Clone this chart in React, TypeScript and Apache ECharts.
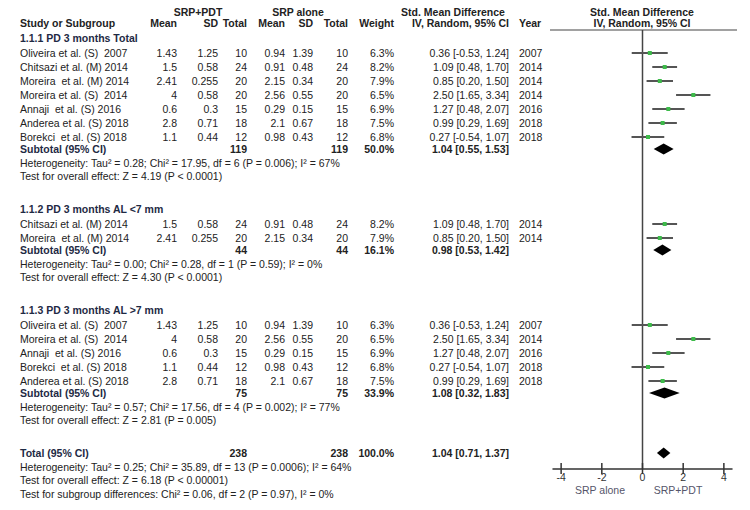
import React, { useEffect, useRef } from "react";
import * as echarts from "echarts";

// ---------- data ----------
const studyNames = [
  "Oliveira et al. (S)  2007",
  "Chitsazi et al. (M) 2014",
  "Moreira  et al. (M) 2014",
  "Moreira et al. (S)  2014",
  "Annaji  et al. (S) 2016",
  "Anderea et al. (S) 2018",
  "Borekci  et al. (S) 2018",
];
const meanPDT = [1.43, 1.5, 2.41, 4, 0.6, 2.8, 1.1];
const sdPDT = [1.25, 0.58, 0.255, 0.58, 0.3, 0.71, 0.44];
const nPDT = [10, 24, 20, 20, 15, 18, 12];
const meanSRP = [0.94, 0.91, 2.15, 2.56, 0.29, 2.1, 0.98];
const sdSRP = [1.39, 0.48, 0.34, 0.55, 0.15, 0.67, 0.43];
const nSRP = [10, 24, 20, 20, 15, 18, 12];
const weights = [6.3, 8.2, 7.9, 6.5, 6.9, 7.5, 6.8];
const smd = [0.36, 1.09, 0.85, 2.5, 1.27, 0.99, 0.27];
const ciLow = [-0.53, 0.48, 0.2, 1.65, 0.48, 0.29, -0.54];
const ciHigh = [1.24, 1.7, 1.5, 3.34, 2.07, 1.69, 1.07];
const years = [2007, 2014, 2014, 2014, 2016, 2018, 2018];

const groupTitles = [
  "1.1.1 PD 3 months Total",
  "1.1.2 PD 3 months AL <7 mm",
  "1.1.3 PD 3 months AL >7 mm",
];
const groupMembers = [
  [0, 1, 2, 3, 4, 5, 6],
  [1, 2],
  [0, 3, 4, 6, 5],
];
const subN = [119, 44, 75];
const subWeight = [50.0, 16.1, 33.9];
const subSmd = [1.04, 0.98, 1.08];
const subLow = [0.55, 0.53, 0.32];
const subHigh = [1.53, 1.42, 1.83];
const subHet = [
  "Heterogeneity: Tau² = 0.28; Chi² = 17.95, df = 6 (P = 0.006); I² = 67%",
  "Heterogeneity: Tau² = 0.00; Chi² = 0.28, df = 1 (P = 0.59); I² = 0%",
  "Heterogeneity: Tau² = 0.57; Chi² = 17.56, df = 4 (P = 0.002); I² = 77%",
];
const subTest = [
  "Test for overall effect: Z = 4.19 (P < 0.0001)",
  "Test for overall effect: Z = 4.30 (P < 0.0001)",
  "Test for overall effect: Z = 2.81 (P = 0.005)",
];
const totalN = 238;
const totalWeight = 100.0;
const totalSmd = 1.04;
const totalLow = 0.71;
const totalHigh = 1.37;
const totalNotes = [
  "Heterogeneity: Tau² = 0.25; Chi² = 35.89, df = 13 (P = 0.0006); I² = 64%",
  "Test for overall effect: Z = 6.18 (P < 0.00001)",
  "Test for subgroup differences: Chi² = 0.06, df = 2 (P = 0.97), I² = 0%",
];
const tickValues = [-4, -2, 0, 2, 4];
const axisSides = ["SRP alone", "SRP+PDT"];

// ---------- layout ----------
const FONT = "'Liberation Sans', Arial, sans-serif";
const FS = 10.5;
const COL = {
  name: 20,
  mean1: 177,
  sd1: 218,
  n1: 247,
  mean2: 285,
  sd2: 313,
  n2: 348,
  weight: 394,
  ci: 509,
  year: 519,
};
const AXIS_Y = 469;
const TOP_LINE_Y = 30;
const HEAD1_Y = 11.5;
const HEAD2_Y = 22.5;

function txt(text: string, x: number, y: number, align = "left", bold = false, color = "#222") {
  return {
    type: "text",
    silent: true,
    style: {
      text,
      x,
      y,
      font: `${bold ? "bold " : ""}${FS}px ${FONT}`,
      fill: color,
      align,
      verticalAlign: "middle",
      textAlign: align,
      textVerticalAlign: "middle",
    },
  };
}

const fmtCI = (e: number, l: number, h: number) =>
  `${e.toFixed(2)} [${l.toFixed(2)}, ${h.toFixed(2)}]`;

export default function App() {
  const ref = useRef<HTMLDivElement>(null);
  useEffect(() => {
    if (!ref.current) return;
    const chart = echarts.init(ref.current, null, { renderer: "svg" });

    const texts: any[] = [];
    const marks: any[] = [];
    const BOLD_DARK = "#1e2a44";

    // headers
    texts.push(txt("SRP+PDT", 198, HEAD1_Y, "center", true));
    texts.push(txt("SRP alone", 298, HEAD1_Y, "center", true));
    texts.push(txt("Std. Mean Difference", 453, HEAD1_Y, "center", true));
    texts.push(txt("Std. Mean Difference", 642, HEAD1_Y, "center", true));
    texts.push(txt("Study or Subgroup", COL.name, HEAD2_Y, "left", true));
    texts.push(txt("Mean", COL.mean1, HEAD2_Y, "right", true));
    texts.push(txt("SD", COL.sd1, HEAD2_Y, "right", true));
    texts.push(txt("Total", COL.n1, HEAD2_Y, "right", true));
    texts.push(txt("Mean", COL.mean2, HEAD2_Y, "right", true));
    texts.push(txt("SD", COL.sd2, HEAD2_Y, "right", true));
    texts.push(txt("Total", COL.n2, HEAD2_Y, "right", true));
    texts.push(txt("Weight", COL.weight, HEAD2_Y, "right", true));
    texts.push(txt("IV, Random, 95% CI", COL.ci, HEAD2_Y, "right", true));
    texts.push(txt("Year", COL.year, HEAD2_Y, "left", true));
    texts.push(txt("IV, Random, 95% CI", 642, HEAD2_Y, "center", true));

    let y = 38;
    groupMembers.forEach((members, gi) => {
      texts.push(txt(groupTitles[gi], COL.name, y, "left", true, BOLD_DARK));
      y += 15;
      members.forEach((si) => {
        texts.push(txt(studyNames[si], COL.name, y));
        texts.push(txt(String(meanPDT[si]), COL.mean1, y, "right"));
        texts.push(txt(String(sdPDT[si]), COL.sd1, y, "right"));
        texts.push(txt(String(nPDT[si]), COL.n1, y, "right"));
        texts.push(txt(String(meanSRP[si]), COL.mean2, y, "right"));
        texts.push(txt(String(sdSRP[si]), COL.sd2, y, "right"));
        texts.push(txt(String(nSRP[si]), COL.n2, y, "right"));
        texts.push(txt(weights[si].toFixed(1) + "%", COL.weight, y, "right"));
        texts.push(txt(fmtCI(smd[si], ciLow[si], ciHigh[si]), COL.ci, y, "right"));
        texts.push(txt(String(years[si]), COL.year, y));
        marks.push([smd[si], ciLow[si], ciHigh[si], y, 0]);
        y += 14;
      });
      y -= 2;
      texts.push(txt("Subtotal (95% CI)", COL.name, y, "left", true, BOLD_DARK));
      texts.push(txt(String(subN[gi]), COL.n1, y, "right", true));
      texts.push(txt(String(subN[gi]), COL.n2, y, "right", true));
      texts.push(txt(subWeight[gi].toFixed(1) + "%", COL.weight, y, "right", true));
      texts.push(txt(fmtCI(subSmd[gi], subLow[gi], subHigh[gi]), COL.ci, y, "right", true));
      marks.push([subSmd[gi], subLow[gi], subHigh[gi], y, 1]);
      y += 13.5;
      texts.push(txt(subHet[gi], COL.name, y));
      y += 13.5;
      texts.push(txt(subTest[gi], COL.name, y));
      y += 33;
    });
    texts.push(txt("Total (95% CI)", COL.name, y, "left", true, BOLD_DARK));
    texts.push(txt(String(totalN), COL.n1, y, "right", true));
    texts.push(txt(String(totalN), COL.n2, y, "right", true));
    texts.push(txt(totalWeight.toFixed(1) + "%", COL.weight, y, "right", true));
    texts.push(txt(fmtCI(totalSmd, totalLow, totalHigh), COL.ci, y, "right", true));
    marks.push([totalSmd, totalLow, totalHigh, y, 1]);
    totalNotes.forEach((t) => {
      y += 13.5;
      texts.push(txt(t, COL.name, y));
    });

    // header rule over plot
    texts.push({
      type: "line",
      silent: true,
      shape: { x1: 550, y1: TOP_LINE_Y, x2: 737, y2: TOP_LINE_Y },
      style: { stroke: "#444", lineWidth: 1.2 },
    });
    texts.push(txt(axisSides[0], 600, 490, "center", false, "#55556a"));
    texts.push(txt(axisSides[1], 678, 490, "center", false, "#55556a"));

    chart.setOption({
      animation: false,
      backgroundColor: "#ffffff",
      grid: { left: 553, right: 18, top: 0, bottom: 510 - AXIS_Y },
      xAxis: {
        type: "value",
        min: -4.4,
        max: 4.4,
        axisLine: { show: true, onZero: false, lineStyle: { color: "#333", width: 1.5 } },
        axisTick: { show: false },
        splitLine: { show: false },
        axisLabel: {
          customValues: tickValues,
          margin: 2,
          color: "#333",
          fontSize: FS,
          fontFamily: FONT,
        },
      },
      yAxis: {
        type: "value",
        min: 0,
        max: AXIS_Y,
        inverse: true,
        show: false,
        axisLine: { onZero: false },
      },
      series: [
        {
          type: "custom",
          name: "zero",
          silent: true,
          data: [[0, TOP_LINE_Y, AXIS_Y]],
          encode: { x: 0, y: [1, 2] },
          renderItem: (params: any, api: any) => {
            const a = api.coord([api.value(0), api.value(1)]);
            const b = api.coord([api.value(0), api.value(2)]);
            return {
              type: "line",
              shape: { x1: a[0], y1: a[1], x2: b[0], y2: b[1] },
              style: { stroke: "#444", lineWidth: 1.5 },
            };
          },
        },
        {
          type: "custom",
          name: "ticks",
          silent: true,
          data: tickValues.map((v) => [v, AXIS_Y]),
          encode: { x: 0, y: 1 },
          renderItem: (params: any, api: any) => {
            const p = api.coord([api.value(0), api.value(1)]);
            return {
              type: "line",
              shape: { x1: p[0], y1: p[1] - 6, x2: p[0], y2: p[1] + 5 },
              style: { stroke: "#333", lineWidth: 1.5 },
            };
          },
        },
        {
          type: "custom",
          name: "forest",
          silent: true,
          data: marks,
          encode: { x: [0, 1, 2], y: 3 },
          renderItem: (params: any, api: any) => {
            const yv = api.value(3);
            const c = api.coord([api.value(0), yv]);
            const l = api.coord([api.value(1), yv]);
            const h = api.coord([api.value(2), yv]);
            if (api.value(4) === 0) {
              return {
                type: "group",
                children: [
                  {
                    type: "line",
                    shape: { x1: l[0], y1: l[1], x2: h[0], y2: h[1] },
                    style: { stroke: "#555", lineWidth: 2 },
                  },
                  {
                    type: "rect",
                    shape: { x: c[0] - 2, y: c[1] - 2, width: 4, height: 4 },
                    style: { fill: "#3dbb4a" },
                  },
                ],
              };
            }
            return {
              type: "polygon",
              shape: {
                points: [
                  [l[0], c[1]],
                  [c[0], c[1] - 5.5],
                  [h[0], c[1]],
                  [c[0], c[1] + 5.5],
                ],
              },
              style: { fill: "#000" },
            };
          },
        },
      ],
      graphic: texts,
    });
    return () => chart.dispose();
  }, []);
  return (
    <div
      ref={ref}
      style={{ position: "fixed", left: 0, top: 0, width: 750, height: 510, background: "#fff" }}
    />
  );
}
